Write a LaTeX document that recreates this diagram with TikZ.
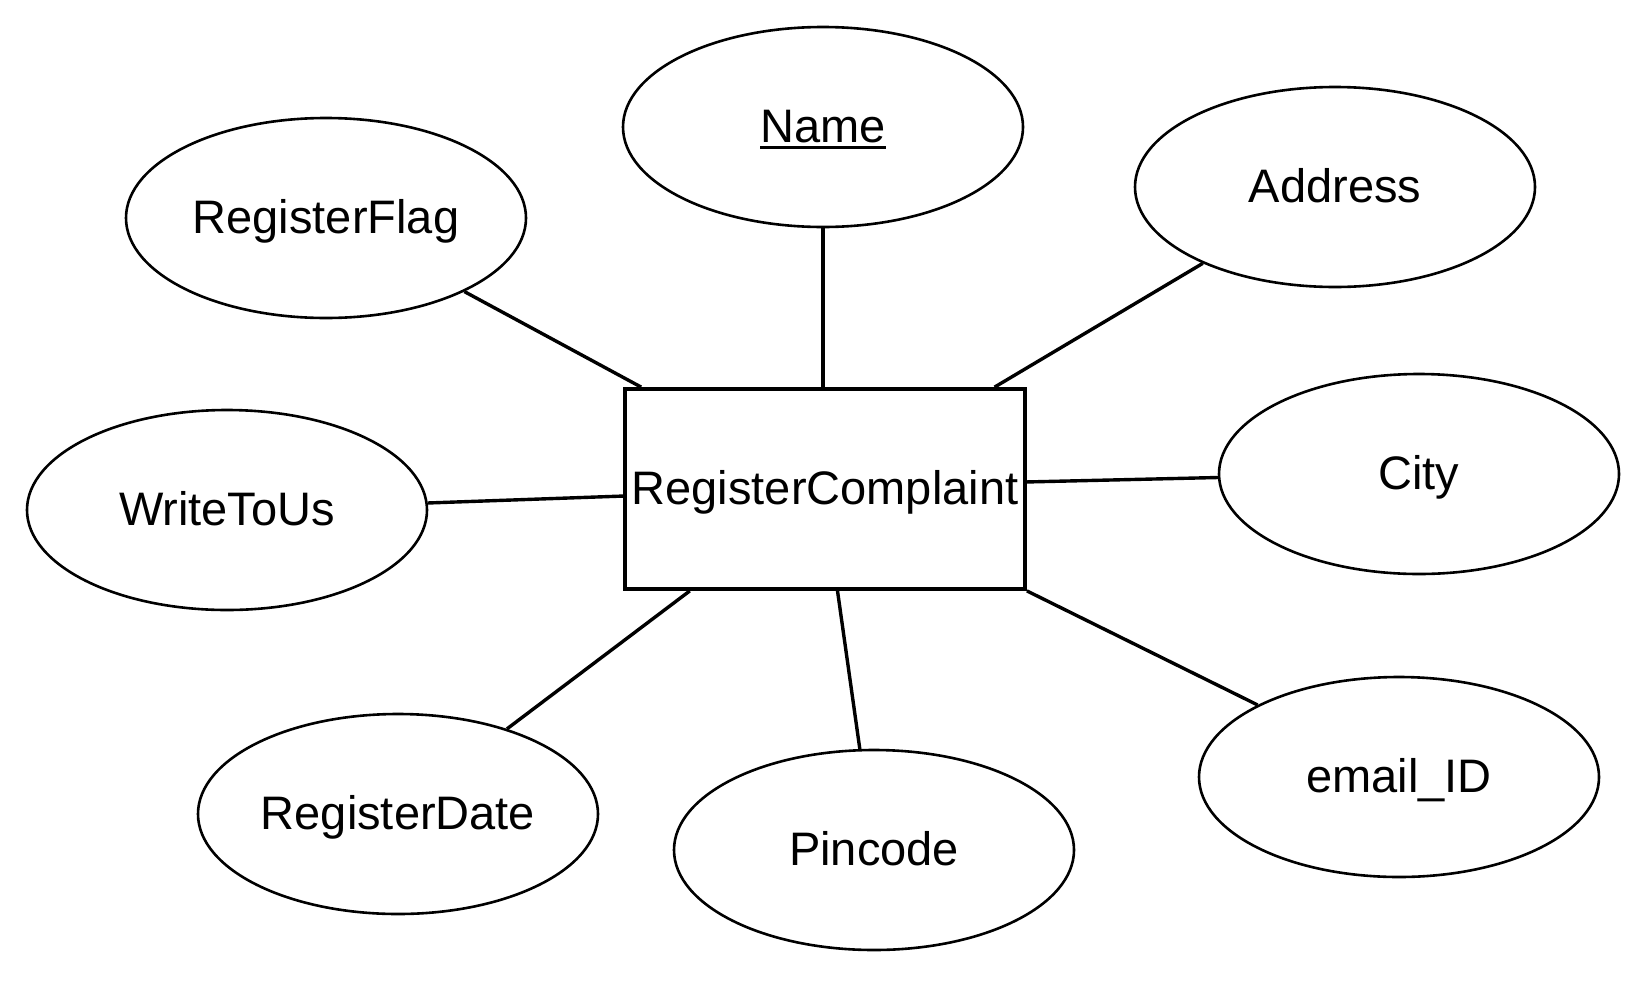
\documentclass[tikz,border=0pt]{standalone}
\usepackage{fontspec}
\setmainfont{Liberation Sans}
\usetikzlibrary{shapes.geometric}

\newcommand{\keyattr}[1]{\setbox0\hbox{#1}\rlap{\rule[-3.4pt]{\wd0}{1.5pt}}\box0}

\begin{document}
\begin{tikzpicture}[x=0.5pt, y=-0.5pt,
  font=\fontsize{23.5}{28}\selectfont,
  attr/.style={ellipse, draw, line width=1.3pt, minimum width=200pt, minimum height=100pt, inner sep=0pt,
    text height=17.2pt, text depth=1.8pt},
  entity/.style={rectangle, draw, line width=1.9pt, minimum width=200pt, minimum height=100pt, inner sep=0pt,
    text height=17.2pt, text depth=1.8pt},
  link/.style={line width=1.7pt}]

\useasboundingbox (0,0) rectangle (1648,980);

% entidade
\node[entity] (complaint) at (825,489) {RegisterComplaint};

% atributos
\node[attr] (name) at (823,127) {\keyattr{Name}};
\node[attr] (flag) at (326,218) {RegisterFlag};
\node[attr] (address) at (1335,187) {Address};
\node[attr] (write) at (227,510) {WriteToUs};
\node[attr] (city) at (1419,474) {City};
\node[attr] (date) at (398,814) {RegisterDate};
\node[attr] (pincode) at (874,850) {Pincode};
\node[attr] (email) at (1399,777) {email\_ID};

% ligações
\draw[link] (flag.-28) -- (complaint.151.5);
\draw[link] (name.south) -- (name.south |- complaint.north);
\draw[link] (address.-150) -- (complaint.31);
\draw[link] (write.2) -- (complaint.182);
\draw[link] (city.181) -- (complaint.2);
\draw[link] (date.38) -- (complaint.-143);
\draw[link] (pincode.98) -- (complaint.-83);
\draw[link] (email.153) -- (complaint.south east);

\end{tikzpicture}
\end{document}
